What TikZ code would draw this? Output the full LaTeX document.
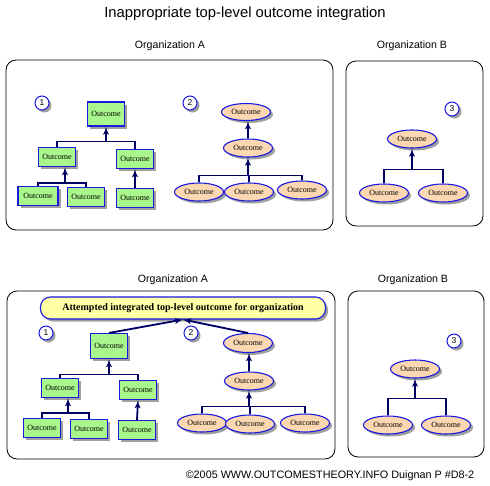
\documentclass[tikz,border=0pt]{standalone}
\usepackage{fontspec}
\setmainfont{Liberation Serif}
\newfontfamily\arialfont{Liberation Sans}
\usetikzlibrary{arrows,shapes,shadows,calc}
\definecolor{box-blue}{RGB}{25,25,225}
\definecolor{link-navy}{RGB}{0,0,100}
\definecolor{leaf-green}{RGB}{168,246,140}
\definecolor{peach}{RGB}{252,216,178}
\definecolor{banner-yellow}{RGB}{255,255,165}

\begin{document}
\begin{tikzpicture}[x=1pt, y=-1pt,
    shade/.style={drop shadow={shadow xshift=2.5pt, shadow yshift=-2.5pt,
          fill=gray!75, opacity=1}},
    goal/.style = {shape=rectangle, draw=box-blue, line width=1.1pt,
          fill=leaf-green, shade, inner sep=1pt,
          font=\fontsize{8}{8}\selectfont,
          minimum width=37pt, minimum height=19pt},
    outc/.style = {shape=ellipse, draw=box-blue, line width=1.1pt,
          fill=peach, shade, inner sep=0pt,
          font=\fontsize{8}{8}\selectfont,
          minimum width=49pt, minimum height=18pt},
    num/.style = {shape=circle, draw=box-blue, line width=1pt,
          fill=white, shade, inner sep=0pt, minimum size=14pt,
          font=\arialfont\fontsize{8.5}{8.5}\selectfont},
    banner/.style = {shape=rectangle, rounded corners=10pt,
          draw=box-blue, line width=1.1pt, fill=banner-yellow, shade,
          font=\bfseries\fontsize{10}{10}\selectfont,
          minimum width=285pt, minimum height=22pt},
    frame/.style = {draw, rounded corners=10pt, line width=0.8pt},
    lab/.style = {font=\arialfont\fontsize{10.6}{11}\selectfont},
    bar/.style = {draw=link-navy, line width=1.8pt},
    post/.style = {->, >=latex', draw=link-navy, line width=1.8pt}]

  \useasboundingbox (0,0) rectangle (490,485);

  % titles
  \node [font=\arialfont\fontsize{14.8}{15}\selectfont] (title) at (245,14)
        {Inappropriate top-level outcome integration};
  \node [lab] (orgA) at (170,46) {Organization A};
  \node [lab] (orgB) at (412,46) {Organization B};
  \node [lab] (orgAb) at (173,280) {Organization A};
  \node [lab] (orgBb) at (413,280) {Organization B};
  \node [font=\arialfont\fontsize{10.8}{11}\selectfont] (foot) at (330,476)
        {\textcopyright2005 WWW.OUTCOMESTHEORY.INFO Duignan P \#D8-2};

  % frames
  \draw [frame] (6,60) rectangle (333,230);
  \draw [frame] (346,61) rectangle (483,226);
  \draw [frame] (7,291) rectangle (335,459);
  \draw [frame] (348,291) rectangle (484,457);

  % top, organization A, boxes
  \node [num] (n1) at (42,103) {1};
  \node [goal, minimum height=24pt] (a1) at (106,114) {Outcome};
  \node [goal] (a2) at (57,157) {Outcome};
  \node [goal] (a3) at (135,159) {Outcome};
  \node [goal, minimum width=40pt] (a4) at (38,196) {Outcome};
  \node [goal] (a5) at (86,197) {Outcome};
  \node [goal] (a6) at (135,198) {Outcome};

  \path (a1.south) ++(0,15) coordinate (ja1);
  \draw [bar] (a2.north) |- (ja1) -| (a3.north);
  \draw [post] (ja1) -- (a1.south);
  \path (a2.south) ++(8,16) coordinate (ja2);
  \draw [bar] (a4.north) |- (ja2) -| (a5.north);
  \draw [post] (ja2) -- (ja2 |- a2.south);
  \draw [post] (a6.north) -- (a3.south);

  % top, organization A, ellipses
  \node [num] (n2) at (190,103) {2};
  \node [outc, minimum height=17pt] (b1) at (246,112) {Outcome};
  \node [outc] (b2) at (248,148) {Outcome};
  \node [outc] (b3) at (199,192) {Outcome};
  \node [outc] (b4) at (249,192) {Outcome};
  \node [outc] (b5) at (302,190) {Outcome};

  \draw [post] (b2.north) -- (b2.north |- b1.south);
  \path (b2.south) ++(0,18) coordinate (jb2);
  \draw [bar] (b3.north) |- (jb2) -| (b5.north);
  \draw [bar] (b4.north) -- (b4.north |- jb2);
  \draw [post] (jb2) -- (b2.south);

  % top, organization B
  \node [num] (n3) at (452,109) {3};
  \node [outc] (c1) at (412,139) {Outcome};
  \node [outc] (c2) at (384,193) {Outcome};
  \node [outc] (c3) at (443,193) {Outcome};

  \path (c1.south) ++(0,21) coordinate (jc1);
  \draw [bar] (c2.north) |- (jc1) -| (c3.north);
  \draw [post] (jc1) -- (c1.south);

  % bottom, organization A
  \node [banner] (top) at (183,308)
        {Attempted integrated top-level outcome for organization};
  \node [num] (m1) at (46,333) {1};
  \node [num] (m2) at (191,333) {2};

  \node [goal, minimum height=25pt] (d1) at (109,346) {Outcome};
  \node [goal] (d2) at (60,388) {Outcome};
  \node [goal] (d3) at (138,390) {Outcome};
  \node [goal] (d4) at (42,428) {Outcome};
  \node [goal] (d5) at (89,429) {Outcome};
  \node [goal] (d6) at (137,430) {Outcome};

  \path (d1.south) ++(0,15.5) coordinate (jd1);
  \draw [bar] (d2.north) |- (jd1) -| (d3.north);
  \draw [post] (jd1) -- (d1.south);
  \path (d2.south) ++(8,15) coordinate (jd2);
  \draw [bar] (d4.north) |- (jd2) -| (d5.north);
  \draw [post] (jd2) -- (jd2 |- d2.south);
  \draw [post] (d6.north) -- (d3.south);

  \node [outc, minimum height=19pt] (e1) at (248,343) {Outcome};
  \node [outc] (e2) at (249,381) {Outcome};
  \node [outc] (e3) at (202,423) {Outcome};
  \node [outc] (e4) at (250,424) {Outcome};
  \node [outc] (e5) at (305,423) {Outcome};

  \draw [post] (e2.north) -- (e2.north |- e1.south);
  \path (e2.south) ++(0,16) coordinate (je2);
  \draw [bar] (e3.north) |- (je2) -| (e5.north);
  \draw [bar] (e4.north) -- (e4.north |- je2);
  \draw [post] (je2) -- (e2.south);

  \draw [post] (d1.north) -- (top.south);
  \draw [post] (e1.north) -- (top.south);

  % bottom, organization B
  \node [num] (o3) at (454,341) {3};
  \node [outc] (f1) at (415,369) {Outcome};
  \node [outc] (f2) at (388,425) {Outcome};
  \node [outc] (f3) at (446,425) {Outcome};

  \path (f1.south) ++(0,20) coordinate (jf1);
  \draw [bar] (f2.north) |- (jf1) -| (f3.north);
  \draw [post] (jf1) -- (f1.south);
\end{tikzpicture}
\end{document}
